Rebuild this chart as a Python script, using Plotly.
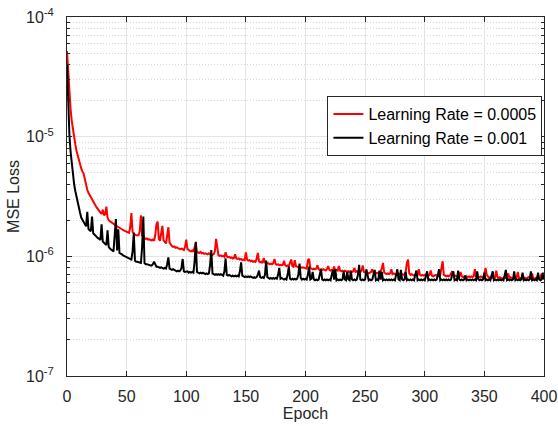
import plotly.graph_objects as go

# Loss values in units of 1e-6, one per epoch (0..400)
loss_lr_0005 = [
    52, 33, 22, 17, 13.5, 11.2, 9.8, 8.6, 7.6, 6.9,
    6.3, 5.8, 5.4, 5.1, 4.9, 4.4, 3.8, 3.6, 3.4, 3.25,
    3.1, 2.95, 2.85, 2.75, 2.65, 2.55, 2.45, 2.4, 2.32, 2.26,
    2.45, 2.2, 2.25, 2.6, 2.1, 2.0, 1.96, 1.93, 1.9, 1.87,
    1.84, 1.81, 1.78, 1.75, 1.72, 1.7, 1.68, 1.66, 1.64, 1.62,
    1.6, 1.58, 1.57, 1.75, 2.3, 1.6, 1.55, 1.52, 1.5, 1.49,
    1.5, 1.62, 2.2, 1.5, 1.45, 1.42, 1.4, 1.41, 1.38, 1.39,
    1.37, 1.36, 1.38, 1.35, 1.5, 1.85, 1.95, 1.4, 1.35, 1.6,
    1.8, 1.36, 1.3, 1.28, 1.5, 1.75, 1.3, 1.25, 1.22, 1.2,
    1.21, 1.18, 1.19, 1.17, 1.16, 1.15, 1.16, 1.14, 1.13, 1.2,
    1.38, 1.15, 1.12, 1.11, 1.1, 1.12, 1.09, 1.2, 1.3, 1.08,
    1.08, 1.07, 1.09, 1.06, 1.07, 1.05, 1.06, 1.05, 1.04, 1.06,
    1.04, 1.05, 1.03, 1.04, 1.1, 1.4, 1.15, 1.02, 1.01, 1.02,
    1.0, 1.01, 0.99, 1.08, 1.0, 0.98, 0.99, 0.97, 0.98, 0.96,
    0.97, 1.04, 0.96, 0.95, 0.96, 0.94, 0.95, 0.93, 0.94, 0.93,
    1.08, 0.94, 0.92, 0.93, 0.91, 0.92, 0.9, 0.91, 0.9, 0.95,
    1.07, 0.91, 0.89, 0.9, 0.88, 0.97, 0.89, 0.87, 0.88, 0.87,
    0.86, 0.87, 0.86, 0.88, 0.95, 0.86, 0.85, 0.86, 0.84, 0.85,
    0.84, 0.85, 0.92, 0.84, 0.83, 0.84, 0.83, 0.88, 0.94, 0.83,
    0.82, 0.93, 0.83, 0.82, 0.81, 0.82, 0.81, 0.8, 0.81, 0.8,
    0.8, 0.79, 0.93, 0.95, 0.8, 0.79, 0.78, 0.79, 0.78, 0.79,
    0.84, 0.78, 0.77, 0.78, 0.77, 0.78, 0.77, 0.76, 0.78, 0.83,
    0.77, 0.76, 0.77, 0.76, 0.82, 0.76, 0.77, 0.76, 0.83, 0.76,
    0.75, 0.76, 0.75, 0.76, 0.75, 0.74, 0.75, 0.74, 0.75, 0.74,
    0.75, 0.8, 0.74, 0.75, 0.74, 0.73, 0.74, 0.76, 0.84, 0.74,
    0.73, 0.74, 0.73, 0.72, 0.73, 0.74, 0.78, 0.73, 0.72, 0.73,
    0.72, 0.73, 0.72, 0.74, 0.8, 0.88, 0.73, 0.72, 0.71, 0.72,
    0.71, 0.72, 0.78, 0.71, 0.72, 0.71, 0.7, 0.71, 0.72, 0.71,
    0.7, 0.71, 0.7, 0.71, 0.74, 0.88, 0.94, 0.72, 0.7, 0.71,
    0.7, 0.69, 0.7, 0.71, 0.7, 0.78, 0.7, 0.69, 0.7, 0.69,
    0.7, 0.69, 0.7, 0.69, 0.7, 0.76, 0.69, 0.68, 0.69, 0.7,
    0.69, 0.68, 0.69, 0.7, 0.8, 0.91, 0.7, 0.69, 0.68, 0.69,
    0.68, 0.69, 0.72, 0.75, 0.69, 0.68, 0.69, 0.68, 0.67, 0.68,
    0.74, 0.68, 0.67, 0.68, 0.67, 0.68, 0.67, 0.68, 0.67, 0.68,
    0.67, 0.68, 0.78, 0.68, 0.67, 0.66, 0.67, 0.68, 0.67, 0.66,
    0.72, 0.8, 0.7, 0.67, 0.66, 0.67, 0.66, 0.67, 0.66, 0.67,
    0.76, 0.67, 0.66, 0.67, 0.66, 0.65, 0.66, 0.67, 0.66, 0.67,
    0.72, 0.66, 0.67, 0.66, 0.65, 0.66, 0.67, 0.66, 0.74, 0.66,
    0.66, 0.65, 0.66, 0.67, 0.66, 0.65, 0.66, 0.67, 0.66, 0.65,
    0.72, 0.66, 0.65, 0.66, 0.67, 0.66, 0.65, 0.66, 0.72, 0.66,
    0.67,
]

loss_lr_001 = [
    40, 17, 10.5, 7.5, 5.8, 4.6, 4.0, 3.5, 3.1, 2.75,
    2.5, 2.3, 2.1, 2.0, 1.9, 1.83, 1.78, 2.35, 1.7, 1.65,
    1.62, 2.15, 1.56, 1.52, 1.48, 1.45, 1.42, 1.4, 1.37, 1.85,
    1.33, 1.3, 1.27, 1.24, 1.65, 1.2, 1.16, 1.13, 1.12, 1.1,
    1.45, 2.05, 1.12, 1.68, 1.07, 1.06, 1.04, 1.02, 1.01, 0.99,
    0.98, 0.97, 0.96, 0.95, 0.94, 1.1, 1.57, 0.92, 0.9, 0.9,
    0.89, 0.89, 0.88, 1.2, 2.15, 0.88, 0.86, 0.86, 0.85, 0.85,
    0.84, 0.84, 0.86, 0.9, 0.85, 0.82, 0.82, 0.81, 0.8, 0.81,
    0.8, 0.79, 0.8, 0.79, 0.86, 0.98, 0.79, 0.78, 0.77, 0.78,
    0.77, 0.76, 0.75, 0.76, 0.75, 0.76, 0.8, 0.95, 0.75, 0.74,
    0.74, 0.75, 0.73, 0.74, 0.73, 0.74, 0.73, 0.9, 1.32, 0.74,
    0.73, 0.72, 0.73, 0.72, 0.73, 0.72, 0.71, 0.72, 0.71, 0.72,
    0.85, 1.13, 0.72, 0.71, 0.7, 0.71, 0.7, 0.71, 0.7, 0.71,
    0.7, 0.69, 0.75, 0.96, 0.7, 0.69, 0.7, 0.69, 0.68, 0.69,
    0.68, 0.69, 0.68, 0.69, 0.68, 0.75, 0.89, 0.69, 0.68, 0.67,
    0.68, 0.67, 0.68, 0.67, 0.68, 0.67, 0.66, 0.67, 0.66, 0.67,
    0.7, 0.76, 0.67, 0.66, 0.67, 0.66, 0.7, 0.92, 0.67, 0.66,
    0.65, 0.66, 0.65, 0.66, 0.65, 0.66, 0.65, 0.7, 0.8, 0.65,
    0.66, 0.65, 0.64, 0.65, 0.64, 0.7, 0.82, 0.65, 0.64, 0.65,
    0.64, 0.65, 0.64, 0.65, 0.7, 0.87, 0.66, 0.64, 0.65, 0.64,
    0.65, 0.64, 0.7, 0.82, 0.64, 0.65, 0.74, 0.64, 0.63, 0.64,
    0.63, 0.64, 0.7, 0.78, 0.64, 0.63, 0.64, 0.63, 0.64, 0.63,
    0.64, 0.63, 0.7, 0.77, 0.64, 0.78, 0.63, 0.64, 0.63, 0.64,
    0.63, 0.64, 0.75, 0.64, 0.63, 0.74, 0.64, 0.63, 0.75, 0.64,
    0.63, 0.64, 0.63, 0.64, 0.7, 0.85, 0.64, 0.63, 0.64, 0.63,
    0.64, 0.78, 0.7, 0.63, 0.64, 0.63, 0.64, 0.7, 0.77, 0.63,
    0.64, 0.63, 0.76, 0.64, 0.74, 0.63, 0.64, 0.63, 0.64, 0.63,
    0.64, 0.63, 0.64, 0.63, 0.64, 0.63, 0.7, 0.78, 0.64, 0.63,
    0.77, 0.64, 0.63, 0.64, 0.74, 0.63, 0.64, 0.63, 0.64, 0.63,
    0.64, 0.63, 0.7, 0.76, 0.63, 0.64, 0.63, 0.64, 0.63, 0.64,
    0.63, 0.7, 0.75, 0.63, 0.64, 0.63, 0.64, 0.63, 0.64, 0.63,
    0.64, 0.7, 0.78, 0.63, 0.64, 0.63, 0.64, 0.63, 0.64, 0.63,
    0.64, 0.63, 0.64, 0.7, 0.75, 0.63, 0.64, 0.63, 0.76, 0.64,
    0.63, 0.64, 0.63, 0.64, 0.69, 0.63, 0.64, 0.63, 0.64, 0.63,
    0.64, 0.63, 0.64, 0.63, 0.75, 0.64, 0.63, 0.64, 0.63, 0.64,
    0.73, 0.63, 0.64, 0.63, 0.64, 0.63, 0.7, 0.75, 0.63, 0.64,
    0.63, 0.64, 0.63, 0.64, 0.63, 0.64, 0.63, 0.7, 0.77, 0.63,
    0.64, 0.63, 0.64, 0.63, 0.64, 0.75, 0.63, 0.64, 0.63, 0.64,
    0.63, 0.64, 0.73, 0.63, 0.64, 0.63, 0.64, 0.63, 0.64, 0.75,
    0.63, 0.64, 0.63, 0.64, 0.63, 0.73, 0.64, 0.63, 0.64, 0.73,
    0.64,
]

UNIT = 1e-6
epochs = list(range(len(loss_lr_0005)))

series_names = ["Learning Rate = 0.0005", "Learning Rate = 0.001"]
series_colors = ["#ff0000", "#000000"]

x_ticks = [0, 50, 100, 150, 200, 250, 300, 350, 400]
y_ticks = [1e-7, 1e-6, 1e-5, 1e-4]
y_tick_text = ["10<sup>-7</sup>", "10<sup>-6</sup>", "10<sup>-5</sup>", "10<sup>-4</sup>"]
y_minor = [m * 10.0 ** e for e in (-7, -6, -5) for m in range(2, 10)]

fig = go.Figure()
for name, color, vals in zip(series_names, series_colors, [loss_lr_0005, loss_lr_001]):
    fig.add_trace(go.Scatter(
        x=epochs, y=[v * UNIT for v in vals], mode="lines", name=name,
        line=dict(color=color, width=2),
    ))

axis_color = "#262626"
font = dict(family="Liberation Sans, Arial, sans-serif", size=16, color=axis_color)

fig.update_layout(
    width=558, height=426,
    margin=dict(l=67, r=14, t=17, b=50, autoexpand=False),
    paper_bgcolor="white", plot_bgcolor="white",
    font=font,
    showlegend=True,
    legend=dict(
        x=0.9967, y=0.78, xanchor="right", yanchor="top",
        bgcolor="white", bordercolor=axis_color, borderwidth=1,
        font=dict(family="Liberation Sans, Arial, sans-serif", size=16, color="#000000"),
        tracegroupgap=0, itemwidth=30,
    ),
)

fig.update_xaxes(
    range=[0, 400], tickvals=x_ticks, automargin=True,
    showline=True, linecolor=axis_color, linewidth=1, mirror="ticks",
    ticks="inside", ticklen=5, tickcolor=axis_color, ticklabelstandoff=6,
    showgrid=True, gridcolor="#e3e3e3", gridwidth=1,
    zeroline=False,
    title=dict(text="Epoch", font=font, standoff=3),
)

fig.update_yaxes(
    type="log", range=[-7, -4], automargin=True,
    tickmode="array", tickvals=y_ticks, ticktext=y_tick_text,
    showline=True, linecolor=axis_color, linewidth=1, mirror="ticks",
    ticks="inside", ticklen=5, tickcolor=axis_color, ticklabelstandoff=9,
    showgrid=True, gridcolor="#e3e3e3", gridwidth=1,
    zeroline=False,
    minor=dict(tickmode="array", tickvals=y_minor, ticks="inside", ticklen=3,
               tickcolor=axis_color, showgrid=True, gridcolor="#d6d6d6",
               griddash="1px,2px", gridwidth=1),
    title=dict(text="MSE Loss", font=font, standoff=2),
)

fig.write_html(
    "out.html",
    config={"displayModeBar": False},
    post_script="document.body.style.margin='0';document.body.style.overflow='hidden';",
)
